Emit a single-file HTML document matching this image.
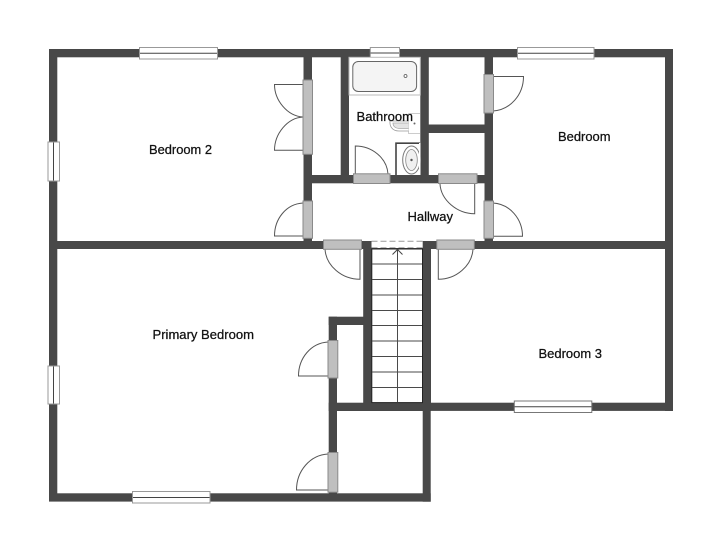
<!DOCTYPE html>
<html><head><meta charset="utf-8"><style>html,body{margin:0;padding:0;background:#fff}svg{display:block}
text{font-family:"Liberation Sans",sans-serif;font-size:12.5px;fill:#111;stroke:#111;stroke-width:.25px}
.d{fill:none;stroke:#555;stroke-width:1}
.r{fill:#bfbfbf;stroke:#8a8a8a;stroke-width:1}
.w{fill:#fff;stroke:#999;stroke-width:1}
.c{stroke:#444;stroke-width:1}
.s{stroke:#4a4a4a;stroke-width:1}
</style></head><body>
<svg width="723" height="551" viewBox="0 0 723 551" xmlns="http://www.w3.org/2000/svg">
<rect width="723" height="551" fill="#fff"/>
<g fill="#484848">
<rect x="49" y="49" width="624" height="8.3"/>
<rect x="49" y="49" width="8.3" height="452.5"/>
<rect x="665" y="49" width="8" height="362"/>
<rect x="49" y="241" width="624" height="8"/>
<rect x="49" y="493.3" width="381.7" height="8.3"/>
<rect x="431" y="402.7" width="242" height="8.2"/>
<rect x="303.5" y="49" width="8.5" height="200"/>
<rect x="340.7" y="49" width="8.3" height="134"/>
<rect x="420.3" y="49" width="8.5" height="134"/>
<rect x="484.5" y="49" width="8.5" height="200"/>
<rect x="303.5" y="175" width="189.5" height="8.3"/>
<rect x="428" y="124.5" width="57" height="8.5"/>
<rect x="363.2" y="241" width="8.4" height="170"/>
<rect x="422.7" y="241" width="8.3" height="170"/>
<rect x="328.7" y="402.7" width="102" height="8.3"/>
<rect x="328.7" y="316.7" width="8.3" height="184"/>
<rect x="328.7" y="316.7" width="35" height="8.3"/>
<rect x="422.7" y="402.7" width="8" height="99"/>
</g>
<!-- stairs -->
<rect x="371.5" y="241" width="51.2" height="7" fill="#fff"/>
<path d="M371.5 248.2H422.7" stroke="#444" stroke-width="1.2" stroke-dasharray="6 3" fill="none"/>
<path d="M371.5 241.2H422.7" stroke="#999" stroke-width="1" stroke-dasharray="6 3" fill="none"/>
<rect x="371.8" y="249" width="50.7" height="153.6" fill="#fff" stroke="#222" stroke-width="1"/>
<g class="s">
<line x1="372" x2="422" y1="264" y2="264"/>
<line x1="372" x2="422" y1="279.5" y2="279.5"/>
<line x1="372" x2="422" y1="295" y2="295"/>
<line x1="372" x2="422" y1="310.5" y2="310.5"/>
<line x1="372" x2="422" y1="325.5" y2="325.5"/>
<line x1="372" x2="422" y1="341" y2="341"/>
<line x1="372" x2="422" y1="356.5" y2="356.5"/>
<line x1="372" x2="422" y1="372" y2="372"/>
<line x1="372" x2="422" y1="387.5" y2="387.5"/>
<line x1="397.5" x2="397.5" y1="250" y2="402"/>
</g>
<path d="M392.5 254.5L397.5 249.5L402.5 254.5" fill="none" stroke="#444" stroke-width="1"/>
<!-- windows -->
<g>
<rect class="w" x="139.5" y="47.5" width="78" height="11.5"/><line class="c" x1="140" x2="217" y1="53.3" y2="53.3"/>
<rect class="w" x="517.5" y="47.5" width="76.5" height="11.5"/><line class="c" x1="518" x2="593.5" y1="53.3" y2="53.3"/>
<rect class="w" x="370.3" y="47.5" width="29.2" height="10"/><line class="c" x1="370.5" x2="399" y1="53" y2="53"/>
<rect class="w" x="48" y="142" width="11.5" height="39"/><line class="c" x1="53.5" x2="53.5" y1="142.5" y2="180.5"/>
<rect class="w" x="48" y="366" width="11.5" height="38"/><line class="c" x1="53.5" x2="53.5" y1="366.5" y2="403.5"/>
<rect class="w" x="132.5" y="491.5" width="77.5" height="11.5"/><line class="c" x1="133" x2="209.5" y1="497.5" y2="497.5"/>
<rect x="514.3" y="401" width="77.5" height="11.5" fill="#fff" stroke="#777" stroke-width="1"/><line class="c" x1="514.5" x2="591.5" y1="406.8" y2="406.8"/>
</g>
<!-- bath fixtures -->
<rect x="349" y="57.3" width="71.3" height="37.7" fill="#fff" stroke="#bbb" stroke-width="1"/>
<rect x="352.8" y="61.5" width="63.8" height="30" rx="5.5" fill="#f4f4f4" stroke="#666" stroke-width="1"/>
<circle cx="405.5" cy="76" r="1.5" fill="#fff" stroke="#555" stroke-width=".8"/>
<path d="M408.5 113.5H420M408.5 113.5V133.500H420" fill="none" stroke="#ccc" stroke-width="1"/>
<path d="M408.5 121H390C389.500 126 392 131 399 131H408.500" fill="#fff" stroke="#999" stroke-width=".8"/>
<path d="M408.5 123H393C393 126 395 128.500 400 128.500H408.500" fill="#e4e4e4" stroke="#aaa" stroke-width=".8"/>
<circle cx="414.500" cy="123.500" r="1" fill="#666"/>
<path d="M420 143.200H396V175" fill="none" stroke="#444" stroke-width="1.600"/>
<ellipse cx="411.500" cy="160" rx="8.800" ry="14" fill="#fff" stroke="#777" stroke-width="1"/>
<ellipse cx="411.500" cy="160" rx="5.800" ry="10.500" fill="#f0f0f0" stroke="#888" stroke-width=".8"/>
<circle cx="411.500" cy="160" r="1.200" fill="#555"/>
<rect x="419" y="143" width="1.500" height="32" fill="#fff"/>
<!-- door swings -->
<g class="d">
<path d="M303 84.500H274.500C274.500 100 287 116 303 117"/>
<path d="M303 117C287 118 274.500 134 274.500 150.300H303"/>
<path d="M303 203C286 204 274.500 219 274.500 236H303"/>
<path d="M493 76.500H523.500C523.500 95 510 110 493 111"/>
<path d="M493 203C510 204 522.500 219 522.500 236.300H493"/>
<path d="M355.300 174V146C372 146 387 158 388 174"/>
<path d="M474.700 184V213.700C457 213.700 441 200 440 184"/>
<path d="M360 249V279.300C342 279.300 326 266 325 249"/>
<path d="M438.300 249V279.300C456 279.300 472 266 473 249"/>
<path d="M328 342C311 343 298.500 358 298.500 376H328"/>
<path d="M328 454C310 455 296.500 471 296.500 490H328"/>
</g>
<!-- door leaves -->
<g>
<rect class="r" x="303" y="80" width="9.500" height="74.300"/>
<rect class="r" x="303" y="201" width="9.500" height="37.300"/>
<rect class="r" x="484" y="74.500" width="9.500" height="38.500"/>
<rect class="r" x="484" y="201" width="9.500" height="37.300"/>
<rect class="r" x="353.500" y="173.800" width="36.500" height="9.700"/>
<rect class="r" x="438.500" y="173.800" width="38.500" height="9.700"/>
<rect class="r" x="323.500" y="240" width="38" height="9.300"/>
<rect class="r" x="436.800" y="240" width="37.500" height="9.300"/>
<rect class="r" x="328" y="340.500" width="9.800" height="37.500"/>
<rect class="r" x="328" y="452.500" width="9.800" height="39.700"/>
</g>
<text x="149" y="154" textLength="63" lengthAdjust="spacingAndGlyphs">Bedroom 2</text>
<text x="356.500" y="121" textLength="56.500" lengthAdjust="spacingAndGlyphs">Bathroom</text>
<text x="558" y="141" textLength="52.500" lengthAdjust="spacingAndGlyphs">Bedroom</text>
<text x="407.500" y="221" textLength="45.500" lengthAdjust="spacingAndGlyphs">Hallway</text>
<text x="152.500" y="339" textLength="101.500" lengthAdjust="spacingAndGlyphs">Primary Bedroom</text>
<text x="538.500" y="358" textLength="63.500" lengthAdjust="spacingAndGlyphs">Bedroom 3</text>
</svg>
</body></html>
